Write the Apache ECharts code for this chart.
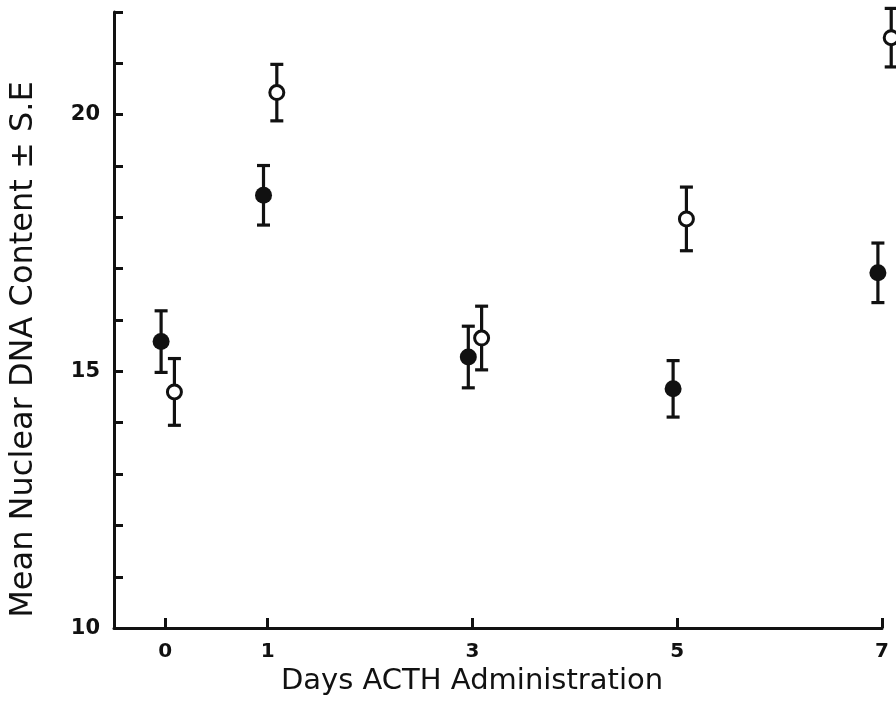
<!DOCTYPE html>
<html>
<head>
<meta charset="utf-8">
<script src="https://cdn.jsdelivr.net/npm/echarts@6/dist/echarts.min.js"></script>
<style>
  html, body { margin: 0; padding: 0; background: #fff; }
  #chart { width: 896px; height: 701px; }
</style>
</head>
<body>
<div id="chart"></div>
<script>
// Days of ACTH administration
const days = [0, 1, 3, 5, 7];
// Closed circles: mean nuclear DNA content and standard error
const closedMean = [15.58, 18.43, 15.28, 14.66, 16.92];
const closedSE = [0.60, 0.58, 0.60, 0.55, 0.58];
// Open circles: mean nuclear DNA content and standard error
const openMean = [14.6, 20.43, 15.65, 17.97, 21.5];
const openSE = [0.65, 0.55, 0.62, 0.62, 0.57];
// Value axis tick labels
const yLabels = [10, 15, 20];

const INK = '#111';
const FONT = 'DejaVu Sans';

// small horizontal dodge so the two groups do not overlap
const closedShift = -0.04;
const openShift = 0.09;

function points(mean, se, shift) {
  return days.map((d, i) => [d + shift, mean[i], mean[i] - se[i], mean[i] + se[i]]);
}

function errorBars(mean, se, shift) {
  return {
    type: 'custom',
    data: points(mean, se, shift),
    encode: { x: 0, y: [1, 2, 3] },
    z: 2,
    clip: false,
    renderItem(params, api) {
      const x = api.value(0);
      const lo = api.coord([x, api.value(2)]);
      const hi = api.coord([x, api.value(3)]);
      const cap = 6.5;
      const style = { stroke: INK, lineWidth: 3.2 };
      return {
        type: 'group',
        children: [
          { type: 'line', shape: { x1: lo[0], y1: lo[1], x2: hi[0], y2: hi[1] }, style },
          { type: 'line', shape: { x1: lo[0] - cap, y1: lo[1], x2: lo[0] + cap, y2: lo[1] }, style },
          { type: 'line', shape: { x1: hi[0] - cap, y1: hi[1], x2: hi[0] + cap, y2: hi[1] }, style }
        ]
      };
    }
  };
}

const chart = echarts.init(document.getElementById('chart'), null, { renderer: 'canvas' });

chart.setOption({
  animation: false,
  backgroundColor: '#fff',
  grid: { left: 114, right: 14, top: 12, bottom: 70, containLabel: false },
  xAxis: {
    type: 'value',
    min: -0.5,
    max: 7,
    name: 'Days ACTH Administration',
    nameLocation: 'middle',
    nameGap: 30,
    nameTextStyle: { color: INK, fontFamily: FONT, fontSize: 29, padding: [0, 52, 0, 0] },
    axisLine: { onZero: false, lineStyle: { color: INK, width: 3 } },
    axisTick: { show: true, inside: true, length: 10, lineStyle: { color: INK, width: 3 }, customValues: days },
    axisLabel: { color: INK, fontFamily: FONT, fontSize: 20, fontWeight: 'bold', margin: 14, customValues: days },
    splitLine: { show: false }
  },
  yAxis: {
    type: 'value',
    min: 10,
    max: 22,
    interval: 1,
    name: 'Mean Nuclear DNA Content \u00b1 S.E',
    nameLocation: 'middle',
    nameGap: 74,
    nameTextStyle: { color: INK, fontFamily: FONT, fontSize: 32, padding: [0, 59, 0, 0] },
    axisLine: { show: true, onZero: false, lineStyle: { color: INK, width: 3 } },
    axisTick: { show: true, inside: true, length: 9, lineStyle: { color: INK, width: 3 } },
    axisLabel: {
      color: INK, fontFamily: FONT, fontSize: 21, fontWeight: 'bold', margin: 14,
      formatter: v => (yLabels.indexOf(v) >= 0 ? String(v) : '')
    },
    splitLine: { show: false }
  },
  series: [
    errorBars(closedMean, closedSE, closedShift),
    errorBars(openMean, openSE, openShift),
    {
      type: 'scatter',
      data: points(closedMean, closedSE, closedShift).map(p => [p[0], p[1]]),
      symbol: 'circle',
      symbolSize: 17,
      itemStyle: { color: INK, opacity: 1 },
      z: 3,
      clip: false
    },
    {
      type: 'scatter',
      data: points(openMean, openSE, openShift).map(p => [p[0], p[1]]),
      symbol: 'circle',
      symbolSize: 14,
      itemStyle: { color: '#fff', borderColor: INK, borderWidth: 3, opacity: 1 },
      z: 3,
      clip: false
    }
  ]
});
</script>
</body>
</html>
